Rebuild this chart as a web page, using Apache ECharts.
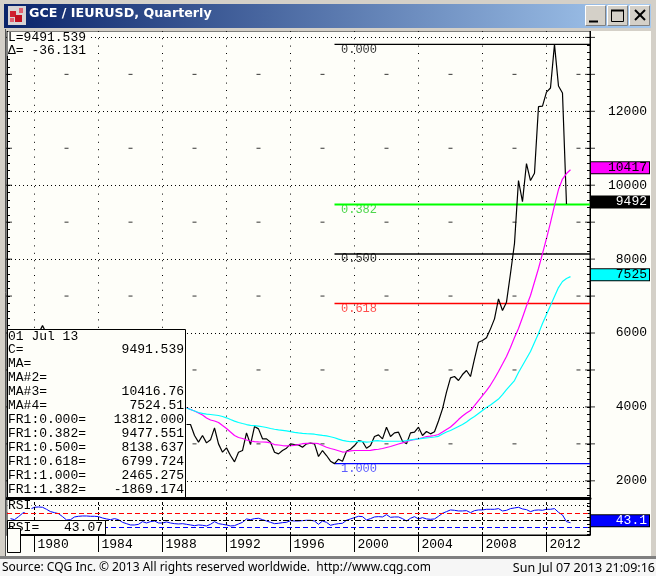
<!DOCTYPE html>
<html><head><meta charset="utf-8">
<style>html,body{margin:0;padding:0;background:#fff}#c{width:656px;height:576px}</style>
<script src="https://cdn.jsdelivr.net/npm/echarts@6/dist/echarts.min.js"></script>
</head><body><div id="c"></div>
<script>
const chartTitle = 'GCE / IEURUSD, Quarterly';
const yearTicks = [1980,1984,1988,1992,1996,2000,2004,2008,2012];
const oddYears = [1982,1986,1990,1994,1998,2002,2006,2010,2014];
const priceTicks = [2000,4000,6000,8000,10000,12000];
const gridLevels = [2000,4000,6000,8000,10000,12000,14000];
const oddLevels = [3000,5000,7000,9000,11000,13000];
const fibLevels = [13812.000,9477.551,8138.637,6799.724,2465.275];
const fibNames = ['0.000','0.382','0.500','0.618','1.000'];
const fibColors = ['#000000','#00ff00','#000000','#ff0000','#0000ff'];
const fibTextColors = ['#000000','#22cc22','#000000','#ff2222','#3333ff'];
const fibStart = 1998.75;
const earlyPeak = [[1980.25,5986],[1980.5,6200],[1980.75,5986]];
const closeValues = [
3524,3524,3226,3046,3226,3027,3109,3433,3000,2775,2892,2685,2513,2775,2820,3298,2982,3469,3406,3136,3136,3046,2775,2730,2820,2883,3000,2982,2973,2910,3000,3018,3000,
2658,2820,2685,2531,2465,2585,2531,2802,2856,2955,3091,3064,2883,2955,3199,3244,3136,3451,3199,3298,3316,3073,3000,3298,3316,3451,3226,3334,3271,3330,3620,
3947,4398,4786,4822,4714,4876,4985,4822,5300,5751,5796,5869,6112,6383,6924,6608,6834,
7610,8422,10126,9557,10586,10126,10323,12124,12140,12520,12630,13812,12685,12495,9491];
const ma3Values = [
3983,3929,3889,3835,3781,3699,3645,3618,3578,3496,3415,3320,3226,3172,3145,3104,3077,3063,3055,3050,3045,3023,2982,2969,2955,2947,2950,2960,2982,3004,3015,3017,3017,
3004,2955,2909,2874,2847,2815,2779,2787,2809,2820,2820,2820,2820,2825,2842,2855,2874,2901,2928,2963,2996,3028,3063,3090,3117,3139,3166,3199,3212,3226,3253,
3320,3388,3456,3550,3658,3753,3835,3902,4037,4173,4308,4443,4592,4768,4958,5160,5364,
5607,5878,6121,6419,6730,7014,7380,7745,8150,8557,8990,9450,9883,10167,10316,10417];
const ma4Values = [
3970,3929,3889,3848,3826,3807,3794,3781,3767,3740,3705,3659,3615,3578,3550,3523,3502,3491,3480,3464,3442,3415,3396,3380,3366,3350,3329,3310,3296,3285,3277,3272,3261,
3245,3229,3218,3193,3166,3128,3096,3074,3058,3058,3069,3063,3047,3058,3080,3085,3074,3071,3071,3071,3071,3077,3090,3109,3123,3136,3147,3160,3172,3185,3204,
3266,3320,3361,3415,3469,3523,3591,3672,3740,3821,3902,3983,4051,4132,4213,4335,4470,
4592,4714,4931,5120,5309,5499,5742,5985,6256,6500,6743,6987,7230,7393,7474,7525];
const rsiValues = [
54.7,51.8,60.4,69.9,76.6,82.3,87.1,88,87.1,81.4,74.7,71.8,69,60.4,50.9,51.8,59.5,61.4,62.3,62.3,61.4,61.4,60.4,56.6,53.8,51.8,54.7,51.8,44.2,40.4,36.6,36.6,38.5,46.1,42.3,46.1,48,42.3,42.3,45.2,42.3,40.4,39.5,40.4,
38.5,36.6,34.7,36.6,35.7,33.8,38.5,46.1,40.4,38.5,36.6,33.8,34.7,39.5,44.2,53.8,51.8,54.7,55.7,51.8,48,44.2,40.4,41.4,43.3,44.2,49,48,48,49,50,50,48,38.5,48,44.2,35.7,38.5,40.4,41.4,50,53.8,57.6,61.4,60.4,50.9,54.7,59.5,60.4,59.5,66.1,58.5,59.5,59.5,54.7,48,55.7,60.4,53.8,57.6,53.8,52.8,53.8,
61.4,69.9,74.7,79.5,78.5,76.6,76.6,77.5,71.8,77.5,79.5,79.5,81.4,81.4,81.4,83.3,76.6,78.5,83.3,85.2,87.1,82.3,80.4,74.7,78.5,79.5,78.5,81.4,81.4,83.3,72.8,65.2,46.1,43.1];
const rsiGuides = [[94,'#000000',[1,3]],[70,'#ff0000',[5,3]],[50,'#000000',[6,2,2,2]],[30,'#0000ff',[5,3]]];
const panelLabels = ['01 Jul 13','C=','MA=','MA#2=','MA#3=','MA#4=','FR1:0.000=','FR1:0.382=','FR1:0.500=','FR1:0.618=','FR1:1.000=','FR1:1.382='];
const panelValues = ['','9491.539','','','10416.76','7524.51','13812.000','9477.551','8138.637','6799.724','2465.275','-1869.174'];
const lastInfo = ['L=9491.539','\u0394= -36.131'];
const priceBoxes = [[10417,'10417','#ff00ff','#000000'],[9491.5,'9492','#000000','#ffffff'],[7524.5,'7525','#00ffff','#000000']];
const rsiBox = [43.07,'43.1','#0000ff','#ffffff'];
const sourceText = 'Source: CQG Inc. \u00a9 2013 All rights reserved worldwide.  http://www.cqg.com';
const stampText = 'Sun Jul 07 2013 21:09:16';

const lastClosePos = 2013.25, lastLagPos = 2013.5, quarter = 0.25;
const pair = (vals,last)=>vals.map((v,i)=>[last-(vals.length-1-i)*quarter,v]);
const XMIN=1978.28, XMAX=2014.72, YMIN=1535, YMAX=14173, RMIN=8, RMAX=113.6;
const mono='"Liberation Mono", monospace';
const paper='#fefef9', frame='#d4d0c8';

const priceSteps=[];for(let v=1600;v<=14000;v+=200)priceSteps.push(v);
const rsiSteps=[10,20,30,40,50,60,70,80,90,100,110];
const thousands=[];for(let v=2000;v<=14000;v+=1000)thousands.push(v);

const marks=[];oddYears.forEach(y=>oddLevels.forEach(l=>marks.push([y,l])));
const edgeMarks=[];thousands.forEach(l=>{edgeMarks.push([XMIN,l]);edgeMarks.push([XMAX,l]);});
const lineSeries=(name,data,color,width)=>({type:'line',name,data,showSymbol:false,symbol:'none',silent:true,
  lineStyle:{color,width:width||1.2},itemStyle:{color},xAxisIndex:0,yAxisIndex:0});
const boxLabel=b=>({show:true,position:'right',distance:0,offset:[58.5,-2],formatter:b[1],color:b[3],backgroundColor:b[2],borderColor:'#000',borderWidth:1,opacity:1,
   width:56,height:11,padding:[0,2,0,0],align:'right',lineHeight:11,fontFamily:mono,fontSize:13});
const series=[
 {type:'scatter',name:'marks',data:marks,symbol:'rect',symbolSize:[4,1],itemStyle:{color:'#000'},silent:true,xAxisIndex:0,yAxisIndex:0,
  markLine:{silent:true,symbol:'none',label:{show:false},animation:false,lineStyle:{color:'#000',width:1},
   data:[...gridLevels.map(l=>({yAxis:l,lineStyle:{type:[1,3],color:'#000',width:1}})),...yearTicks.map(y=>({xAxis:y,lineStyle:{type:[1,6.4],color:'#000',width:1}}))]}},
 {type:'scatter',name:'edgeMarks',data:edgeMarks,symbol:'rect',symbolSize:[10,1],itemStyle:{color:'#000'},silent:true,clip:true,xAxisIndex:0,yAxisIndex:0},
 ...fibLevels.map((l,i)=>lineSeries('fib'+fibNames[i],[[fibStart,l],[XMAX,l]],fibColors[i],i==1?1.8:1.4)),
 {type:'scatter',name:'fibLabels',silent:true,symbolSize:1,itemStyle:{color:'transparent'},xAxisIndex:0,yAxisIndex:0,
  data:fibLevels.map((l,i)=>({value:[fibStart,l],label:{show:true,position:'right',distance:6,offset:[0,5],formatter:fibNames[i],color:fibTextColors[i],fontFamily:mono,fontSize:12}}))},
 lineSeries('close',pair(closeValues,lastClosePos),'#000000'),
 lineSeries('closeEarly',earlyPeak,'#000000'),
 lineSeries('MA3',pair(ma3Values,lastLagPos),'#ff00ff'),
 lineSeries('MA4',pair(ma4Values,lastLagPos),'#00ffff'),
 {type:'scatter',name:'boxes',silent:true,symbolSize:1,itemStyle:{color:'transparent'},xAxisIndex:0,yAxisIndex:0,z:5,clip:false,
  data:priceBoxes.map(b=>({value:[XMAX,b[0]],label:boxLabel(b)}))},
 {type:'line',name:'RSI',data:pair(rsiValues,lastLagPos),showSymbol:false,symbol:'none',silent:true,lineStyle:{color:'#0000ff',width:1},xAxisIndex:1,yAxisIndex:2,
  markLine:{silent:true,symbol:'none',label:{show:false},animation:false,
   data:[...yearTicks.map(y=>({xAxis:y,lineStyle:{color:'#000',type:[3,2],width:1}})),...rsiGuides.map(g=>({yAxis:g[0],lineStyle:{color:g[1],type:g[2],width:1}}))]}},
 {type:'scatter',name:'rsiBox',silent:true,symbolSize:1,itemStyle:{color:'transparent'},xAxisIndex:1,yAxisIndex:2,z:5,clip:false,
  data:[{value:[XMAX,rsiBox[0]],label:boxLabel(rsiBox)}]}
];

const gfx=[];
const add=e=>{e.z=100;e.z2=gfx.length;e.silent=true;gfx.push(e);};
const R=(x,y,w,h,fill,stroke,lw)=>add({type:'rect',shape:{x,y,width:w,height:h},style:{fill:fill,stroke:stroke||null,lineWidth:lw||1}});
const L=(x1,y1,x2,y2,c,w)=>add({type:'line',shape:{x1,y1,x2,y2},style:{stroke:c,lineWidth:w||1}});
const T=(x,y,text,o)=>add({type:'text',x,y,style:Object.assign({text,fill:'#000',font:'13px '+mono,verticalAlign:'middle'},o||{})});
// window frame
R(0,0,656,31,frame);R(0,0,6,558,frame);R(651,0,5,558,frame);
R(0,556,656,3,'#808080');R(0,559,656,17,'#f6f6f6');
L(5.5,29,5.5,556,'#555');
R(4,4,647,24,{type:'linear',x:0,y:0,x2:1,y2:0,colorStops:[{offset:0,color:'#0a246a'},{offset:1,color:'#a6caf0'}]});
// icon
R(8,6,18,19,'#d8d4d4');R(10,11,6,6,'#d02030');R(15,15,7,7,'#c01020');R(19,8,4,5,'#e06070');R(10,18,4,4,'#e06070');
// buttons
[585.5,607.5,629.5].forEach(x=>{R(x,5.5,20,20,frame,'#808080');L(x,5.5,x+20,5.5,'#fff');L(x,5.5,x,25.5,'#fff');});
L(589,21.5,598,21.5,'#000',2);
R(611.5,10.5,12,11,'none','#000',1);L(611,10.5,624,10.5,'#000',2);
L(635,10,645,20,'#000',2);L(645,10,635,20,'#000',2);
// info box
R(7.5,32,81,24,paper);
lastInfo.forEach((t,i)=>T(8,37.5+i*13.5,t));
// data panel
R(7.5,329.5,178,168,paper,'#000');
panelLabels.forEach((t,i)=>T(8,336.5+(i==0?0:13.4+(i-1)*13.98),t));
panelValues.forEach((t,i)=>{if(t)T(184,336.5+13.4+(i-1)*13.98,t,{align:'right'});});
// RSI boxes
R(7.5,500,24,12,paper);T(8,505.5,'RSI');
R(7.5,520.5,98,14,paper,'#000');T(8,527.5,'RSI=');T(103,527.5,rsiBox[0].toFixed(2),{align:'right'});
R(7.5,528.5,13,24,paper,'#000');
// status
T(2,568,sourceText,{font:'12px "Noto Sans"'});
T(655,568,stampText,{font:'12.5px "Noto Sans"',align:'right'});

const chart=echarts.init(document.getElementById('c'),null,{renderer:'canvas'});
chart.setOption({
 animation:false,backgroundColor:paper,
 title:{text:chartTitle,left:29,top:7,z:200,padding:0,textStyle:{color:'#fff',fontSize:12.7,fontWeight:'bold',fontFamily:'"DejaVu Sans"'}},
 grid:[{left:7,top:31,width:583,height:467,show:true,borderColor:'#000',borderWidth:1,backgroundColor:'transparent'},
       {left:7,top:498,width:583,height:37,show:true,borderColor:'#000',borderWidth:1,backgroundColor:'transparent'}],
 xAxis:[
  {type:'value',gridIndex:0,min:XMIN,max:XMAX,axisLabel:{show:false},axisTick:{show:false},
   axisLine:{show:true,lineStyle:{color:'#000',width:3}},splitLine:{show:false}},
  {type:'value',gridIndex:1,min:XMIN,max:XMAX,position:'bottom',
   axisLine:{show:true,lineStyle:{color:'#000',width:1}},
   axisTick:{show:true,length:17,lineStyle:{color:'#000'},customValues:yearTicks},
   axisLabel:{show:true,customValues:yearTicks,margin:3,align:'left',padding:[0,0,0,3],color:'#000',fontFamily:mono,fontSize:13,formatter:v=>String(v)},
   splitLine:{show:false}}
 ],
 yAxis:[
  {type:'value',gridIndex:0,position:'right',min:YMIN,max:YMAX,
   axisLine:{show:true,lineStyle:{color:'#000'}},
   axisTick:{show:true,inside:true,length:3,lineStyle:{color:'#000'},customValues:priceSteps},
   axisLabel:{show:true,customValues:priceTicks,align:'right',margin:57,padding:[0,0,4,0],color:'#000',fontFamily:mono,fontSize:13,formatter:v=>String(v)},
   splitLine:{show:false}},
  {type:'value',gridIndex:0,position:'left',min:YMIN,max:YMAX,
   axisLine:{show:true,lineStyle:{color:'#000',width:1}},
   axisTick:{show:true,inside:true,length:3,lineStyle:{color:'#000'},customValues:priceSteps},
   axisLabel:{show:false},splitLine:{show:false}},
  {type:'value',gridIndex:1,position:'right',min:RMIN,max:RMAX,
   axisLine:{show:true,lineStyle:{color:'#000'}},
   axisTick:{show:true,inside:true,length:3,lineStyle:{color:'#000'},customValues:rsiSteps},
   axisLabel:{show:false},splitLine:{show:false}}
 ],
 graphic:{elements:gfx},
 series
});
</script></body></html>
